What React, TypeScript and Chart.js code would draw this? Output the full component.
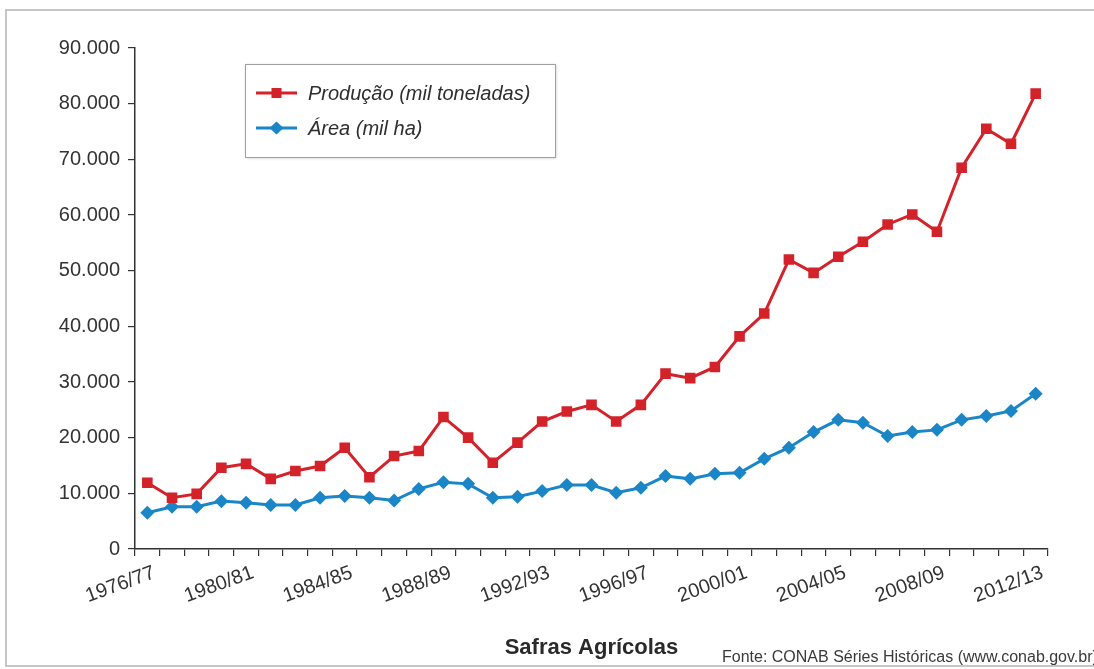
import React, { useEffect, useRef } from "react";
import { Chart, registerables } from "chart.js";

Chart.register(...registerables);

const safras = [
  "1976/77", "1977/78", "1978/79", "1979/80", "1980/81", "1981/82", "1982/83", "1983/84",
  "1984/85", "1985/86", "1986/87", "1987/88", "1988/89", "1989/90", "1990/91", "1991/92",
  "1992/93", "1993/94", "1994/95", "1995/96", "1996/97", "1997/98", "1998/99", "1999/00",
  "2000/01", "2001/02", "2002/03", "2003/04", "2004/05", "2005/06", "2006/07", "2007/08",
  "2008/09", "2009/10", "2010/11", "2011/12", "2012/13",
];

const producao = [
  11900, 9200, 9900, 14600, 15300, 12600, 14000, 14900, 18200, 12900, 16700, 17600,
  23700, 20000, 15500, 19100, 22900, 24700, 25900, 22900, 25900, 31500, 30700, 32700,
  38200, 42300, 52000, 49600, 52500, 55200, 58300, 60100, 57000, 68500, 75500, 72800, 81800,
];

const area = [
  6500, 7600, 7600, 8600, 8300, 7900, 7900, 9200, 9500, 9200, 8700, 10800, 12000,
  11700, 9200, 9400, 10400, 11500, 11500, 10100, 11000, 13100, 12600, 13500, 13700,
  16200, 18200, 21000, 23200, 22700, 20300, 21000, 21400, 23200, 23900, 24800, 27900,
];

const seriesNames = ["Produção (mil toneladas)", "Área (mil ha)"];
const xTitle = "Safras Agrícolas";
const fonteText = "Fonte: CONAB Séries Históricas (www.conab.gov.br)";
const yMin = 0;
const yMax = 90000;
const yStep = 10000;
const labelEvery = 4;

const W = 1094;
const H = 669;
const FONT = "'Liberation Sans', Arial, Helvetica, sans-serif";
const RED = "#D3222A";
const BLUE = "#1A86C8";
const AXIS = "#333333";

const fmt = (v: number) => String(v).replace(/\B(?=(\d{3})+(?!\d))/g, ".");

const framePlugin = {
  id: "frame",
  beforeDraw(chart: any) {
    const ctx = chart.ctx;
    ctx.save();
    ctx.fillStyle = "#ffffff";
    ctx.fillRect(0, 0, chart.width, chart.height);
    ctx.strokeStyle = "#c6c6c6";
    ctx.lineWidth = 2;
    ctx.strokeRect(6, 10, chart.width + 20, 656);
    ctx.restore();
  },
};

const legendBoxPlugin = {
  id: "legendBox",
  afterDraw(chart: any) {
    const ctx = chart.ctx;
    const bx = 245, by = 64, bw = 310, bh = 93;
    ctx.save();
    ctx.shadowColor = "rgba(0,0,0,0.22)";
    ctx.shadowBlur = 3;
    ctx.shadowOffsetX = 1;
    ctx.shadowOffsetY = 1;
    ctx.fillStyle = "#ffffff";
    ctx.fillRect(bx, by, bw, bh);
    ctx.shadowColor = "transparent";
    ctx.strokeStyle = "#a0a0a0";
    ctx.lineWidth = 1;
    ctx.strokeRect(bx + 0.5, by + 0.5, bw, bh);
    chart.data.datasets.forEach((ds: any, i: number) => {
      const y = 93 + i * 35;
      const x0 = 256, x1 = 297, xm = (x0 + x1) / 2;
      ctx.strokeStyle = ds.borderColor;
      ctx.lineWidth = 3;
      ctx.beginPath();
      ctx.moveTo(x0, y);
      ctx.lineTo(x1, y);
      ctx.stroke();
      ctx.fillStyle = ds.borderColor;
      ctx.beginPath();
      if (ds.pointStyle === "rect") {
        ctx.rect(xm - 5, y - 5, 10, 10);
      } else {
        ctx.moveTo(xm - 7, y);
        ctx.lineTo(xm, y - 6.5);
        ctx.lineTo(xm + 7, y);
        ctx.lineTo(xm, y + 6.5);
        ctx.closePath();
      }
      ctx.fill();
      ctx.fillStyle = "#2e2e2e";
      ctx.font = `italic 20px ${FONT}`;
      ctx.textAlign = "left";
      ctx.textBaseline = "middle";
      ctx.fillText(ds.label, 308, y + 1);
    });
    ctx.restore();
  },
};

const sourcePlugin = {
  id: "sourceText",
  afterDraw(chart: any) {
    const ctx = chart.ctx;
    ctx.save();
    ctx.fillStyle = "#3a3a3a";
    ctx.font = `16px ${FONT}`;
    ctx.textAlign = "left";
    ctx.textBaseline = "alphabetic";
    ctx.fillText(fonteText, 722, 662);
    ctx.restore();
  },
};

export default function App() {
  const ref = useRef<HTMLCanvasElement | null>(null);

  useEffect(() => {
    if (!ref.current) return;
    const chart = new Chart(ref.current, {
      type: "line",
      data: {
        labels: safras,
        datasets: [
          {
            label: seriesNames[0],
            data: producao,
            borderColor: RED,
            backgroundColor: RED,
            borderWidth: 3,
            pointStyle: "rect",
            pointRadius: 7.5,
            pointBorderWidth: 0,
            pointBackgroundColor: RED,
            tension: 0,
          },
          {
            label: seriesNames[1],
            data: area,
            borderColor: BLUE,
            backgroundColor: BLUE,
            borderWidth: 3,
            pointStyle: "rectRot",
            pointRadius: 7,
            pointBorderWidth: 0,
            pointBackgroundColor: BLUE,
            tension: 0,
          },
        ],
      },
      options: {
        responsive: false,
        animation: false,
        devicePixelRatio: 1,
        layout: { padding: { left: 0, right: 46, top: 48, bottom: 4 } },
        plugins: {
          legend: { display: false },
          tooltip: { enabled: false },
        },
        scales: {
          x: {
            type: "category",
            offset: true,
            afterFit: (s: any) => {
              s.height = 116;
            },
            grid: {
              offset: true,
              drawOnChartArea: false,
              drawTicks: true,
              tickLength: 7,
              color: AXIS,
              lineWidth: 1.2,
            },
            border: { display: true, color: AXIS, width: 1.5 },
            ticks: {
              autoSkip: false,
              maxRotation: 20,
              minRotation: 20,
              padding: 5,
              labelOffset: 7,
              color: AXIS,
              font: { family: FONT, size: 20 },
              callback: (_v: any, i: number) => (i % labelEvery === 0 ? safras[i] : ""),
            },
            title: {
              display: true,
              text: xTitle,
              color: "#2a2a2a",
              font: { family: FONT, size: 22, weight: "bold" },
              padding: { top: 0, bottom: 4 },
            },
          },
          y: {
            min: yMin,
            max: yMax,
            afterFit: (s: any) => {
              s.width = 135;
            },
            grid: {
              drawOnChartArea: false,
              drawTicks: true,
              tickLength: 7,
              color: AXIS,
              lineWidth: 1.2,
            },
            border: { display: true, color: AXIS, width: 1.5 },
            ticks: {
              stepSize: yStep,
              padding: 8,
              color: AXIS,
              font: { family: FONT, size: 20 },
              callback: (v: any) => fmt(Number(v)),
            },
          },
        },
      },
      plugins: [framePlugin, legendBoxPlugin, sourcePlugin],
    });
    return () => chart.destroy();
  }, []);

  return (
    <div style={{ position: "absolute", left: 0, top: 0, width: W, height: H }}>
      <canvas ref={ref} width={W} height={H} style={{ display: "block", width: W, height: H }} />
    </div>
  );
}
